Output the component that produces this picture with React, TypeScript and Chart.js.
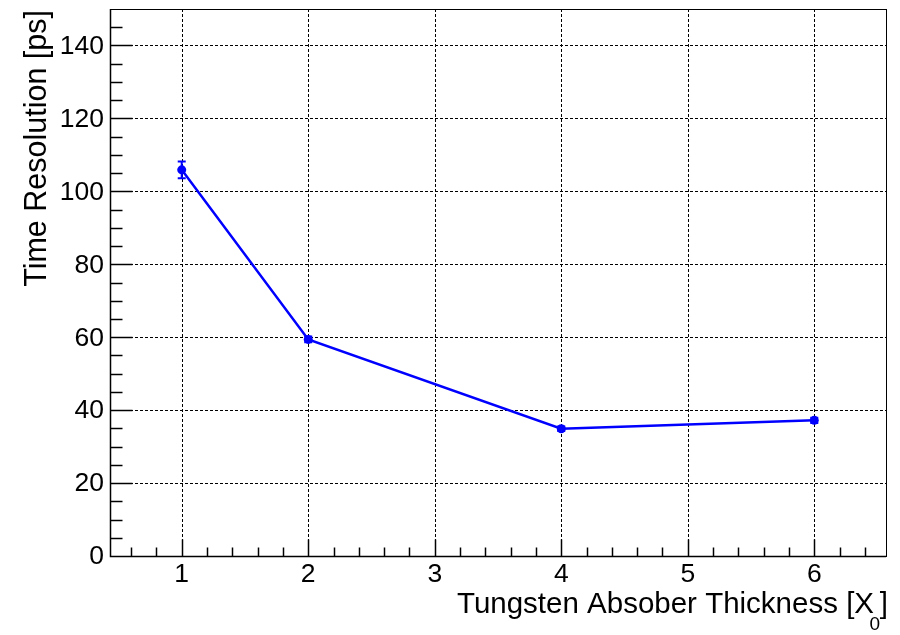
import React, { useEffect, useRef } from "react";
import { Chart, registerables } from "chart.js";

Chart.register(...registerables);

// ---- data ----
const thickness = [1, 2, 4, 6];
const timeResolution = [105.9, 59.4, 34.9, 37.2];
const timeError = [2.3, 0.8, 0.6, 0.7];
const xMajorTicks = [1, 2, 3, 4, 5, 6];
const yMajorTicks = [0, 20, 40, 60, 80, 100, 120, 140];
const xTitleMain = "Tungsten Absober Thickness [X";
const xTitleSub = "0";
const xTitleEnd = "]";
const yTitle = "Time Resolution [ps]";

const X_MIN = 0.433;
const X_MAX = 6.567;
const Y_MIN = 0;
const Y_MAX = 150;
const X_MINOR_STEP = 0.2;
const Y_MINOR_STEP = 5;

const FONT = "'Liberation Sans', Arial, sans-serif";
const BLUE = "#0000ff";

const rootStylePlugin = {
  id: "rootStyle",
  beforeDatasetsDraw(chart: any) {
    const { ctx, chartArea: a, scales } = chart;
    const xs = scales.x;
    const ys = scales.y;
    ctx.save();
    ctx.strokeStyle = "#000";
    ctx.lineWidth = 1;
    ctx.setLineDash([3, 2]);
    for (const v of xMajorTicks) {
      const px = Math.round(xs.getPixelForValue(v)) + 0.5;
      ctx.beginPath();
      ctx.moveTo(px, a.top);
      ctx.lineTo(px, a.bottom);
      ctx.stroke();
    }
    for (const v of yMajorTicks) {
      if (v === Y_MIN) continue;
      const py = Math.round(ys.getPixelForValue(v)) + 0.5;
      ctx.beginPath();
      ctx.moveTo(a.left, py);
      ctx.lineTo(a.right, py);
      ctx.stroke();
    }
    ctx.restore();
  },
  afterDatasetsDraw(chart: any) {
    const { ctx, scales } = chart;
    const xs = scales.x;
    const ys = scales.y;
    ctx.save();
    ctx.strokeStyle = BLUE;
    ctx.lineWidth = 2;
    ctx.setLineDash([]);
    thickness.forEach((x, i) => {
      const px = xs.getPixelForValue(x);
      const top = ys.getPixelForValue(timeResolution[i] + timeError[i]);
      const bot = ys.getPixelForValue(timeResolution[i] - timeError[i]);
      ctx.beginPath();
      ctx.moveTo(px, top);
      ctx.lineTo(px, bot);
      ctx.moveTo(px - 4, top);
      ctx.lineTo(px + 4, top);
      ctx.moveTo(px - 4, bot);
      ctx.lineTo(px + 4, bot);
      ctx.stroke();
    });
    ctx.restore();
  },
  afterDraw(chart: any) {
    const { ctx, chartArea: a, scales } = chart;
    const xs = scales.x;
    const ys = scales.y;
    ctx.save();
    ctx.setLineDash([]);
    ctx.strokeStyle = "#000";
    ctx.lineWidth = 1;
    // frame
    ctx.strokeRect(Math.round(a.left) + 0.5, Math.round(a.top) + 0.5, Math.round(a.right - a.left), Math.round(a.bottom - a.top));
    ctx.lineWidth = 1.5;
    ctx.beginPath();
    ctx.moveTo(Math.round(a.left) + 0.5, a.top);
    ctx.lineTo(Math.round(a.left) + 0.5, Math.round(a.bottom) + 0.5);
    ctx.lineTo(a.right, Math.round(a.bottom) + 0.5);
    ctx.stroke();
    // x ticks
    const bottom = Math.round(a.bottom) + 0.5;
    for (let v = 0.6; v < X_MAX; v += X_MINOR_STEP) {
      const r = Math.round(v * 10) / 10;
      const isMajor = Math.abs(r - Math.round(r)) < 1e-6;
      const px = Math.round(xs.getPixelForValue(r)) + 0.5;
      ctx.beginPath();
      ctx.moveTo(px, bottom);
      ctx.lineTo(px, bottom - (isMajor ? 17 : 9));
      ctx.stroke();
    }
    // y ticks
    const left = Math.round(a.left) + 0.5;
    for (let v = Y_MIN + Y_MINOR_STEP; v < Y_MAX; v += Y_MINOR_STEP) {
      const isMajor = v % 20 === 0;
      const py = Math.round(ys.getPixelForValue(v)) + 0.5;
      ctx.beginPath();
      ctx.moveTo(left, py);
      ctx.lineTo(left + (isMajor ? 22 : 12), py);
      ctx.stroke();
    }
    // tick labels
    ctx.fillStyle = "#000";
    ctx.font = `26.5px ${FONT}`;
    ctx.textAlign = "center";
    ctx.textBaseline = "alphabetic";
    for (const v of xMajorTicks) {
      ctx.fillText(String(v), xs.getPixelForValue(v), 582);
    }
    ctx.textAlign = "right";
    ctx.textBaseline = "middle";
    for (const v of yMajorTicks) {
      ctx.fillText(String(v), 104, ys.getPixelForValue(v) + 1);
    }
    // x title
    ctx.textBaseline = "alphabetic";
    ctx.textAlign = "right";
    ctx.font = `29.5px ${FONT}`;
    ctx.fillText(xTitleEnd, 888, 613);
    ctx.font = `19px ${FONT}`;
    ctx.fillText(xTitleSub, 880, 630);
    ctx.font = `29.5px ${FONT}`;
    ctx.fillText(xTitleMain, 874, 613);
    // y title
    ctx.translate(46, 10);
    ctx.rotate(-Math.PI / 2);
    ctx.font = `30.5px ${FONT}`;
    ctx.textAlign = "right";
    ctx.textBaseline = "alphabetic";
    ctx.fillText(yTitle, 0, 0);
    ctx.restore();
  },
};

export default function App() {
  const ref = useRef<HTMLCanvasElement | null>(null);
  useEffect(() => {
    if (!ref.current) return;
    const chart = new Chart(ref.current, {
      type: "scatter",
      data: {
        datasets: [
          {
            data: thickness.map((x, i) => ({ x, y: timeResolution[i] })),
            showLine: true,
            borderColor: BLUE,
            backgroundColor: BLUE,
            borderWidth: 2.5,
            pointRadius: 4.5,
            pointBorderWidth: 0,
            pointBackgroundColor: BLUE,
          },
        ],
      },
      options: {
        responsive: false,
        animation: false,
        devicePixelRatio: 1,
        layout: { padding: { left: 110, top: 9, right: 14, bottom: 79 } },
        plugins: { legend: { display: false }, tooltip: { enabled: false } },
        scales: {
          x: { type: "linear", min: X_MIN, max: X_MAX, display: false },
          y: { type: "linear", min: Y_MIN, max: Y_MAX, display: false },
        },
      },
      plugins: [rootStylePlugin],
    });
    return () => chart.destroy();
  }, []);
  return (
    <div style={{ position: "absolute", left: 0, top: 0, width: 900, height: 635, background: "#fff" }}>
      <canvas ref={ref} width={900} height={635} />
    </div>
  );
}
